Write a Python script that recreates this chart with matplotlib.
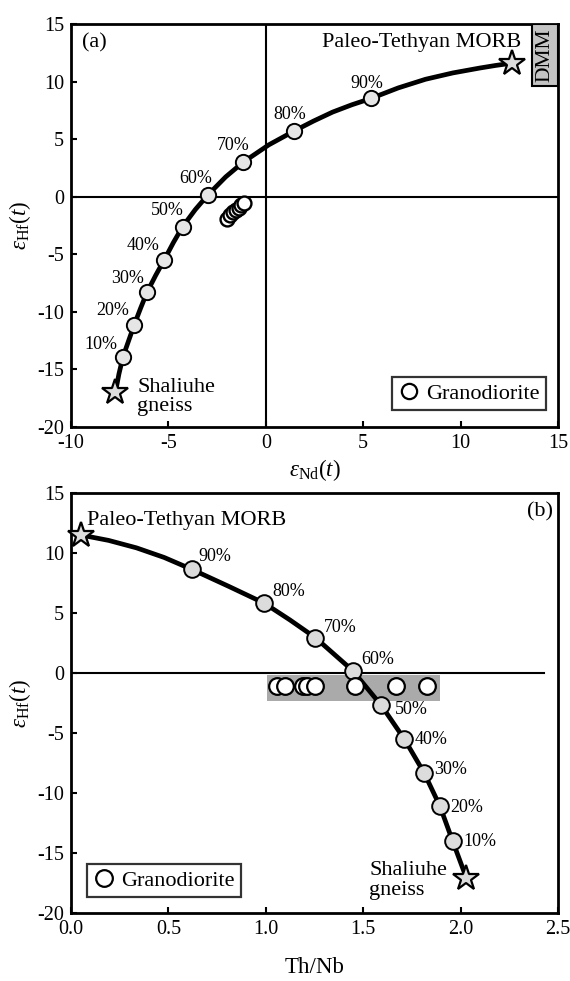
import matplotlib
matplotlib.use("Agg")
import matplotlib.pyplot as plt
from matplotlib.patches import Rectangle
from matplotlib.lines import Line2D

plt.rcParams['font.family'] = ['Liberation Serif', 'DejaVu Serif']
plt.rcParams['mathtext.fontset'] = 'custom'
plt.rcParams['mathtext.rm'] = 'Liberation Serif'
plt.rcParams['mathtext.it'] = 'Liberation Serif:italic'
plt.rcParams['axes.unicode_minus'] = False

# ---------------- data: panel (a) ----------------
pct_labels = ['10%', '20%', '30%', '40%', '50%', '60%', '70%', '80%', '90%']
a_mix_nd = [-7.33, -6.75, -6.10, -5.21, -4.27, -2.97, -1.16, 1.47, 5.39]
a_mix_hf = [-13.9, -11.1, -8.31, -5.47, -2.6, 0.16, 3.0, 5.72, 8.53]
a_curve_nd = [-7.72, -7.54, -7.33, -7.03, -6.75, -6.42, -6.10, -5.65, -5.21, -4.74,
              -4.27, -3.62, -2.97, -2.06, -1.16, 0.15, 1.47, 2.45, 3.43, 4.41,
              5.39, 6.8, 8.2, 9.6, 11.0, 11.8, 12.63]
a_curve_hf = [-17.0, -15.4, -13.9, -12.45, -11.1, -9.65, -8.31, -6.82, -5.47, -3.97,
              -2.6, -1.12, 0.16, 1.72, 3.0, 4.5, 5.72, 6.57, 7.35, 7.98,
              8.53, 9.45, 10.2, 10.75, 11.18, 11.4, 11.6]
a_morb = (12.63, 11.6)
a_gneiss = (-7.72, -17.0)
a_gd_nd = [-2.0, -1.85, -1.7, -1.55, -1.4, -1.25, -1.12]
a_gd_hf = [-1.95, -1.6, -1.35, -1.15, -0.95, -0.75, -0.57]
a_lab_x = [-8.45, -7.85, -7.11, -6.31, -5.07, -3.6, -1.66, 1.21, 5.17]
a_lab_y = [-12.83, -9.9, -7.1, -4.2, -1.24, 1.55, 4.45, 7.17, 9.87]
dmm_box = (13.68, 9.6, 15.0, 15.0)

# ---------------- data: panel (b) ----------------
b_mix_thnb = [1.959, 1.894, 1.812, 1.711, 1.593, 1.446, 1.254, 0.993, 0.621]
b_mix_hf = [-14.0, -11.1, -8.3, -5.5, -2.7, 0.2, 2.95, 5.81, 8.63]
b_curve_thnb = [2.03, 1.959, 1.894, 1.812, 1.711, 1.593, 1.446, 1.254, 1.124, 0.993,
                0.807, 0.621, 0.478, 0.336, 0.193, 0.05]
b_curve_hf = [-17.1, -14.0, -11.1, -8.3, -5.5, -2.7, 0.2, 2.95, 4.42, 5.81,
              7.24, 8.63, 9.63, 10.43, 11.05, 11.5]
b_morb = (0.05, 11.5)
b_gneiss = (2.03, -17.1)
b_gd_thnb = [1.06, 1.10, 1.19, 1.21, 1.25, 1.46, 1.67, 1.83]
b_gd_hf = [-1.1, -1.1, -1.1, -1.1, -1.1, -1.1, -1.1, -1.1]
b_lab_x = [2.1, 2.03, 1.95, 1.849, 1.746, 1.576, 1.384, 1.116, 0.737]
b_lab_y = [-14.0, -11.2, -8.04, -5.5, -3.05, 1.1, 3.78, 6.78, 9.68]
b_band = (1.004, -2.36, 1.894, -0.15)

fig = plt.figure(figsize=(5.70, 9.81), dpi=100)
axa = fig.add_axes([71/570, 1-427/981, 487/570, 403/981])
axb = fig.add_axes([71/570, 1-913/981, 487/570, 420/981])

FS_TICK = 14.5
FS_TXT = 16
FS_PCT = 13
CURVE_LW = 3.4
SPINE_LW = 2.0

def style_axes(ax):
    for s in ax.spines.values():
        s.set_linewidth(SPINE_LW)
    ax.tick_params(direction='in', length=4, width=1.5, labelsize=FS_TICK,
                   top=False, right=False, pad=5)

# ---------------- panel (a) ----------------
ax = axa
ax.axhline(0, color='black', lw=1.5, zorder=1)
ax.axvline(0, color='black', lw=1.5, zorder=1)
ax.plot(a_curve_nd, a_curve_hf, color='black', lw=CURVE_LW, solid_capstyle='round',
        solid_joinstyle='round', zorder=2)
ax.plot(a_mix_nd, a_mix_hf, 'o', ms=11, mfc='#e6e6e6', mec='black', mew=1.4, zorder=3)
ax.plot(a_gd_nd, a_gd_hf, 'o', ms=10, mfc='white', mec='black', mew=1.7, zorder=4)
ax.plot(*a_morb, marker='*', ms=19, mfc='#dcdcdc', mec='black', mew=1.6, zorder=5,
        clip_on=False)
ax.plot(*a_gneiss, marker='*', ms=19, mfc='#dcdcdc', mec='black', mew=1.6, zorder=5,
        clip_on=False)
for lab, x, y in zip(pct_labels, a_lab_x, a_lab_y):
    ax.text(x, y, lab, fontsize=FS_PCT, ha='center', va='center')
x0, y0, x1, y1 = dmm_box
ax.add_patch(Rectangle((x0, y0), x1 - x0, y1 - y0, facecolor='#c4c4c4',
                       edgecolor='black', lw=1.5, zorder=3))
ax.text((x0 + x1) / 2, (y0 + y1) / 2, 'DMM', rotation=90, fontsize=15.5,
        ha='center', va='center', zorder=4)
ax.text(-8.82, 13.35, '(a)', fontsize=FS_TXT, ha='center', va='center')
ax.text(13.13, 13.35, 'Paleo-Tethyan MORB', fontsize=FS_TXT, ha='right', va='center')
ax.text(-6.6, -17.4, 'Shaliuhe\ngneiss', fontsize=FS_TXT, ha='left', va='center',
        linespacing=1.05)
ax.set_xlim(-10, 15)
ax.set_ylim(-20, 15)
ax.set_xticks([-10, -5, 0, 5, 10, 15])
ax.set_yticks([-20, -15, -10, -5, 0, 5, 10, 15])
style_axes(ax)
ax.set_xlabel(r'$\varepsilon_{\mathrm{Nd}}(t)$', fontsize=16.5, labelpad=3)
ax.set_ylabel(r'$\varepsilon_{\mathrm{Hf}}(t)$', fontsize=16.5, labelpad=3)
h = Line2D([], [], marker='o', ls='none', ms=11, mfc='white', mec='black', mew=1.6)
leg = ax.legend([h], ['Granodiorite'], loc='lower right', bbox_to_anchor=(0.975, 0.041),
                borderaxespad=0, fontsize=FS_TXT, frameon=True, fancybox=False,
                handlelength=0.9, handletextpad=0.3, borderpad=0.3)
leg.get_frame().set_edgecolor('black')
leg.get_frame().set_linewidth(1.6)

# ---------------- panel (b) ----------------
ax = axb
ax.plot([0, 2.43], [0, 0], color='black', lw=1.5, zorder=1)
bx0, by0, bx1, by1 = b_band
ax.add_patch(Rectangle((bx0, by0), bx1 - bx0, by1 - by0, facecolor='#aaaaaa',
                       edgecolor='none', zorder=1))
ax.plot(b_curve_thnb, b_curve_hf, color='black', lw=CURVE_LW, solid_capstyle='round',
        solid_joinstyle='round', zorder=2)
ax.plot(b_mix_thnb, b_mix_hf, 'o', ms=12, mfc='#dcdcdc', mec='black', mew=1.4, zorder=3)
ax.plot(b_gd_thnb, b_gd_hf, 'o', ms=12, mfc='white', mec='black', mew=1.6, zorder=4)
ax.plot(*b_morb, marker='*', ms=19, mfc='#dcdcdc', mec='black', mew=1.6, zorder=5,
        clip_on=False)
ax.plot(*b_gneiss, marker='*', ms=19, mfc='#dcdcdc', mec='black', mew=1.6, zorder=5,
        clip_on=False)
for lab, x, y in zip(pct_labels, b_lab_x, b_lab_y):
    ax.text(x, y, lab, fontsize=FS_PCT, ha='center', va='center')
ax.text(2.41, 13.4, '(b)', fontsize=FS_TXT, ha='center', va='center')
ax.text(0.084, 12.7, 'Paleo-Tethyan MORB', fontsize=FS_TXT, ha='left', va='center')
ax.text(1.53, -17.3, 'Shaliuhe\ngneiss', fontsize=FS_TXT, ha='left', va='center',
        linespacing=1.05)
ax.set_xlim(0, 2.5)
ax.set_ylim(-20, 15)
ax.set_xticks([0.0, 0.5, 1.0, 1.5, 2.0, 2.5])
ax.set_xticklabels(['0.0', '0.5', '1.0', '1.5', '2.0', '2.5'])
ax.set_yticks([-20, -15, -10, -5, 0, 5, 10, 15])
style_axes(ax)
ax.set_xlabel('Th/Nb', fontsize=16.5, labelpad=13)
ax.set_ylabel(r'$\varepsilon_{\mathrm{Hf}}(t)$', fontsize=16.5, labelpad=3)
h = Line2D([], [], marker='o', ls='none', ms=12, mfc='white', mec='black', mew=1.6)
leg = ax.legend([h], ['Granodiorite'], loc='lower left', bbox_to_anchor=(0.0336, 0.037),
                borderaxespad=0, fontsize=FS_TXT, frameon=True, fancybox=False,
                handlelength=0.9, handletextpad=0.3, borderpad=0.3)
leg.get_frame().set_edgecolor('black')
leg.get_frame().set_linewidth(1.6)

fig.savefig('out.png', dpi=100)
